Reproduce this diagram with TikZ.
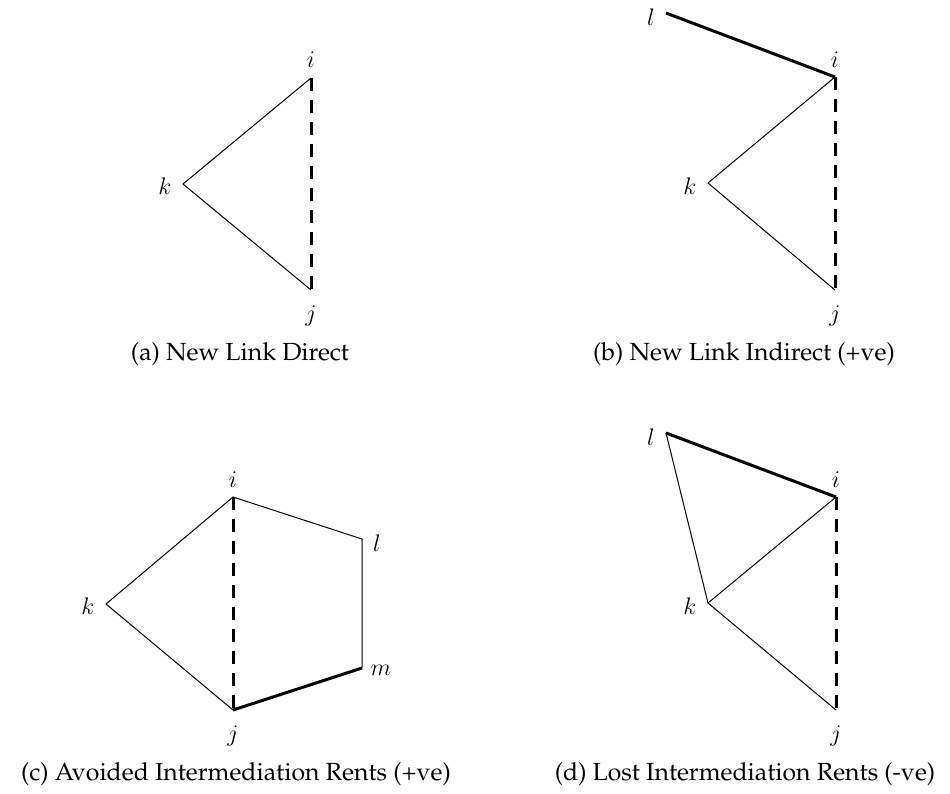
\documentclass[tikz,border=0pt]{standalone}
\usepackage[T1]{fontenc}
\usepackage{palatino}
\begin{document}
\begin{tikzpicture}[x=0.5pt,y=-0.5pt,
  edge/.style={line width=0.5pt},
  strong/.style={line width=1.5pt},
  newlink/.style={line width=1.5pt, dash pattern=on 6.5pt off 4.5pt},
  lbl/.style={inner sep=0pt, font=\fontsize{12.4}{15}\selectfont},
  captxt/.style={inner sep=0pt, font=\fontsize{12.4}{15}\selectfont}]
\useasboundingbox (0,0) rectangle (950,794);
% (a)
\coordinate (ai) at (311,78);
\coordinate (ak) at (183,184);
\coordinate (aj) at (311,290);
\node[lbl] (ail) at (311,60) {$i$};
\node[lbl] (akl) at (165,186) {$k$};
\node[lbl] (ajl) at (311,316) {$j$};
\draw[edge] (ai) -- (ak) -- (aj);
\draw[newlink] (ai) -- (aj);
\node[captxt] (acap) at (240,354) {(a) New Link Direct};
% (b)
\coordinate (bl) at (666,13);
\coordinate (bi) at (835,77);
\coordinate (bk) at (708,183);
\coordinate (bj) at (835,290);
\node[lbl] (bll) at (651,17) {$l$};
\node[lbl] (bil) at (835,60) {$i$};
\node[lbl] (bkl) at (690,186) {$k$};
\node[lbl] (bjl) at (835,316) {$j$};
\draw[edge] (bi) -- (bk) -- (bj);
\draw[strong] (bl) -- (bi);
\draw[newlink] (bi) -- (bj);
\node[captxt] (bcap) at (744,354) {(b) New Link Indirect (+ve)};
% (c)
\coordinate (ci) at (233,497);
\coordinate (cl) at (362,539);
\coordinate (cm) at (362,668);
\coordinate (cj) at (233,710);
\coordinate (ck) at (106,604);
\node[lbl] (cil) at (233,480) {$i$};
\node[lbl] (cll) at (377,543) {$l$};
\node[lbl] (cml) at (381,670) {$m$};
\node[lbl] (cjl) at (233,736) {$j$};
\node[lbl] (ckl) at (88,606) {$k$};
\draw[edge] (cm) -- (cl) -- (ci) -- (ck) -- (cj);
\draw[strong] (cj) -- (cm);
\draw[newlink] (ci) -- (cj);
\node[captxt] (ccap) at (236,774) {(c) Avoided Intermediation Rents (+ve)};
% (d)
\coordinate (dl) at (666,433);
\coordinate (di) at (836,497);
\coordinate (dk) at (708,603);
\coordinate (dj) at (836,710);
\node[lbl] (dll) at (651,437) {$l$};
\node[lbl] (dil) at (836,480) {$i$};
\node[lbl] (dkl) at (690,606) {$k$};
\node[lbl] (djl) at (836,736) {$j$};
\draw[edge] (dl) -- (dk);
\draw[edge] (di) -- (dk) -- (dj);
\draw[strong] (dl) -- (di);
\draw[newlink] (di) -- (dj);
\node[captxt] (dcap) at (745,774) {(d) Lost Intermediation Rents (-ve)};
\end{tikzpicture}
\end{document}
